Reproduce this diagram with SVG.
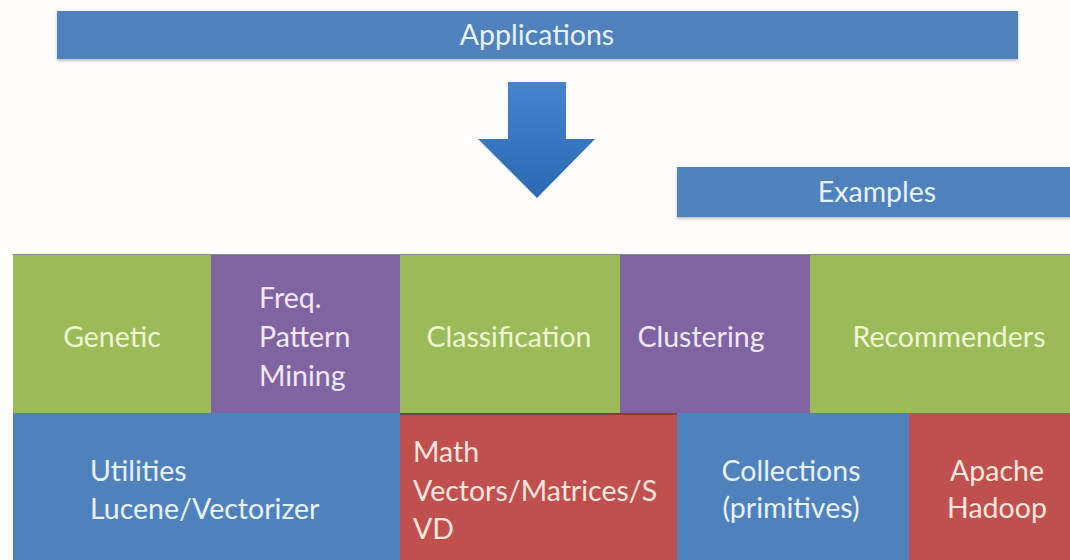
<svg xmlns="http://www.w3.org/2000/svg" width="1070" height="560" viewBox="0 0 1070 560">
<defs>
<linearGradient id="arrowGrad" x1="0" y1="0" x2="0" y2="1">
<stop offset="0" stop-color="#4684d0"/>
<stop offset="1" stop-color="#2c68b2"/>
</linearGradient>
<filter id="shadow" x="-5%" y="-20%" width="110%" height="150%">
<feDropShadow dx="0" dy="2" stdDeviation="1.5" flood-color="#000" flood-opacity="0.25"/>
</filter>
</defs>
<style>
text{font-family:Lato,"Noto Sans","Liberation Sans",sans-serif;font-size:28.5px}
.bar{fill:#4f81bd;filter:url(#shadow)}
.green{fill:#9bbb59}
.purple{fill:#8064a2}
.blue{fill:#4f81bd}
.red{fill:#c0504d}
.tg{fill:#eef7d2}
.tp{fill:#f1e9f8}
.tb{fill:#e8f2fc}
.tr{fill:#fbe6df}
.c{text-anchor:middle}
</style>
<rect width="1070" height="560" fill="#fffefc"/>
<g id="applications">
<rect class="bar" x="57" y="11" width="961" height="48"/>
<text class="c tb" x="537" y="45">Applications</text>
</g>
<g id="connectors">
<path d="M508,82 H566 V139 H595 L537,198 L478,139 H508 Z" fill="url(#arrowGrad)"/>
</g>
<g id="examples">
<rect class="bar" x="677" y="167" width="400" height="50"/>
<text class="c tb" x="877" y="202">Examples</text>
</g>
<rect x="13" y="254" width="1057" height="1.5" fill="#7f8a8a"/>
<g id="genetic">
<rect class="green" x="13" y="255" width="198" height="158"/>
<text class="c tg" x="112" y="347">Genetic</text>
</g>
<g id="freq-pattern-mining">
<rect class="purple" x="211" y="255" width="189" height="158"/>
<text class="tp" x="259" y="308">Freq.</text>
<text class="tp" x="259" y="347">Pattern</text>
<text class="tp" x="259" y="386">Mining</text>
</g>
<g id="classification">
<rect class="green" x="400" y="255" width="220" height="158"/>
<text class="c tg" x="509" y="347">Classification</text>
</g>
<g id="clustering">
<rect class="purple" x="620" y="255" width="190" height="158"/>
<text class="c tp" x="701" y="347">Clustering</text>
</g>
<g id="recommenders">
<rect class="green" x="810" y="255" width="260" height="158"/>
<text class="c tg" x="949" y="347">Recommenders</text>
</g>
<g id="utilities">
<rect class="blue" x="13" y="413" width="387" height="147"/>
<text class="tb" x="90" y="481">Utilities</text>
<text class="tb" x="90" y="519">Lucene/Vectorizer</text>
</g>
<g id="math">
<rect class="red" x="400" y="414" width="277" height="146"/>
<rect x="400" y="413" width="277" height="2" fill="#8a3a36"/>
<text class="tr" x="413" y="462">Math</text>
<text class="tr" x="413" y="501">Vectors/Matrices/S</text>
<text class="tr" x="413" y="539">VD</text>
</g>
<g id="collections">
<rect class="blue" x="677" y="413" width="232" height="147"/>
<text class="c tb" x="791" y="481">Collections</text>
<text class="c tb" x="791" y="518">(primitives)</text>
</g>
<g id="apache-hadoop">
<rect class="red" x="909" y="413" width="161" height="147"/>
<text class="c tr" x="997" y="481">Apache</text>
<text class="c tr" x="997" y="518">Hadoop</text>
</g>
</svg>
